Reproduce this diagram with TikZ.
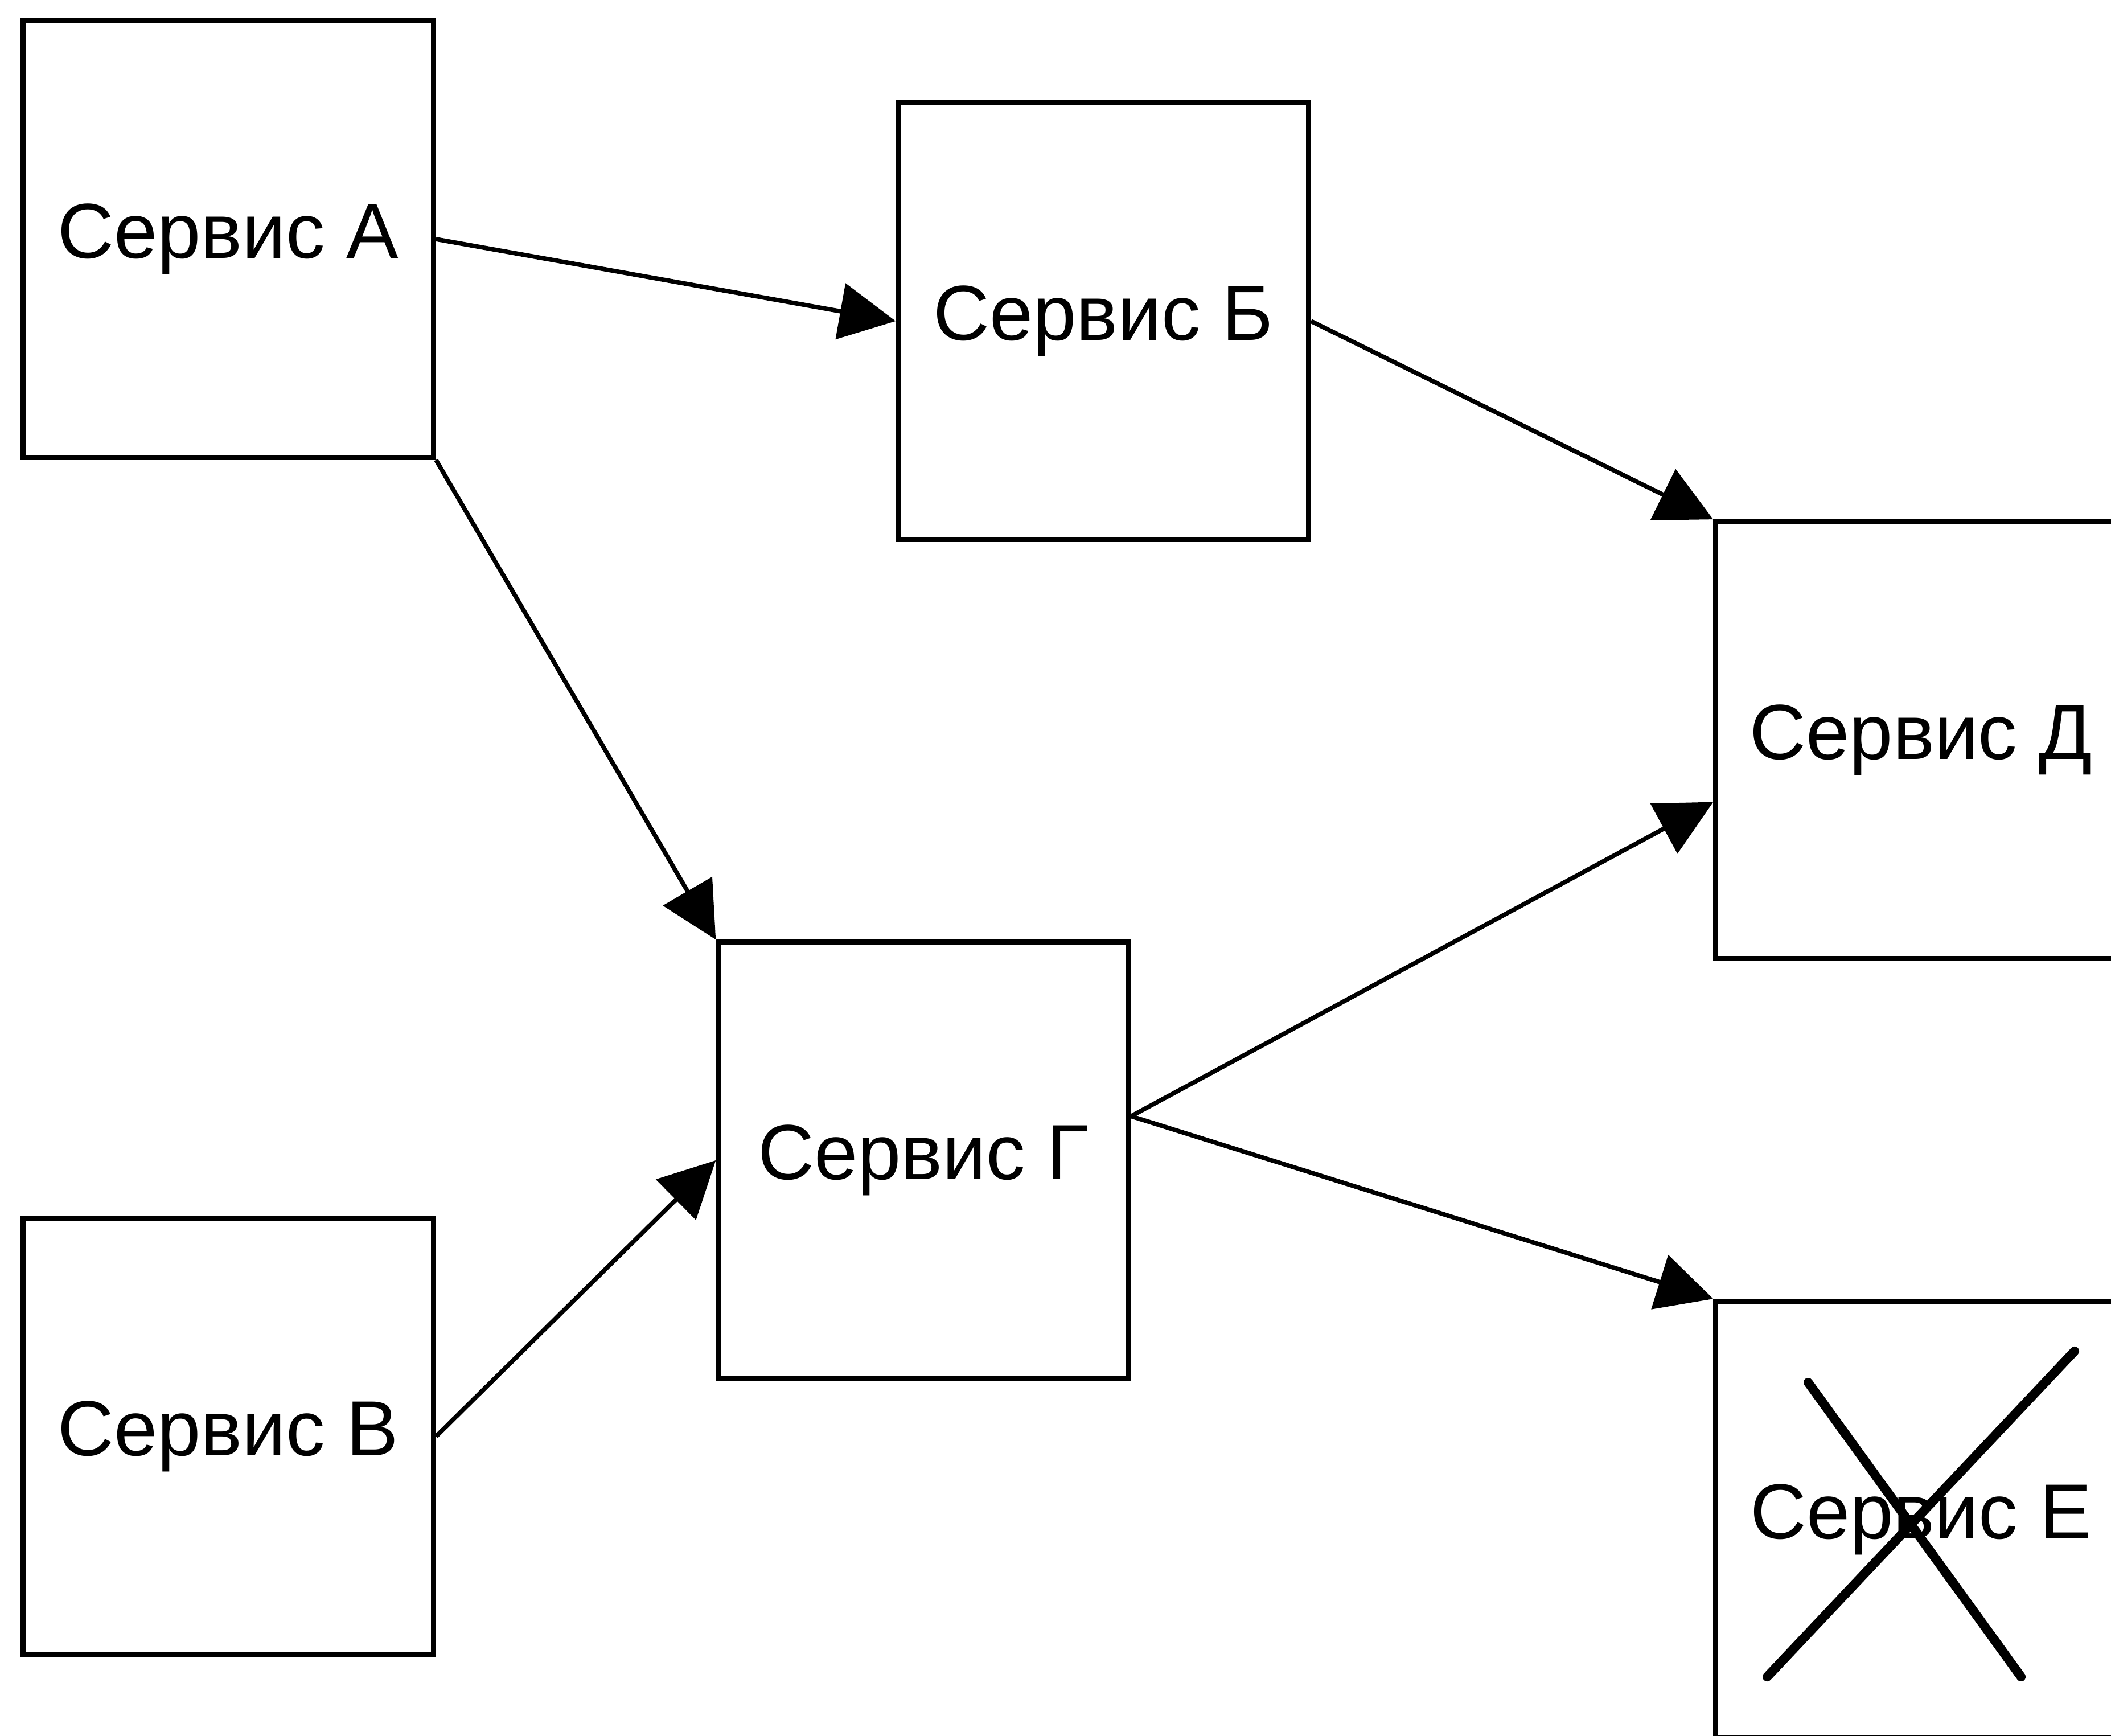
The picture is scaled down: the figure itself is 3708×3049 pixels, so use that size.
\documentclass[tikz,border=0pt]{standalone}
\usepackage{fontspec}
\setmainfont{Liberation Sans}
\usetikzlibrary{arrows.meta,calc}
\begin{document}
\begin{tikzpicture}[x=0.01cm,y=-0.01cm,
  service/.style={draw=black, line width=2.6pt, fill=white,
    minimum width=7.2cm, minimum height=7.66cm, inner sep=0pt,
    font=\fontsize{39}{47}\selectfont},
  link/.style={line width=2.2pt, -{Triangle[length=28pt,width=28pt]}},
  cross/.style={line width=4.6pt, line cap=round}]
\useasboundingbox (0,0) rectangle (3708,3049);
\clip (0,0) rectangle (3708,3049);
\fill[white] (0,0) rectangle (3708,3049);

% services
\node[service] (sa) at (401,420)   {Сервис А};
\node[service] (sb) at (1938,564)  {Сервис Б};
\node[service] (sv) at (401,2523)  {Сервис В};
\node[service] (sg) at (1622,2038) {Сервис Г};
\node[service] (sd) at (3374,1300) {Сервис Д};
\node[service] (se) at (3374,2669) {Сервис Е};

% connection points on the sides of boxes
\coordinate (gout) at ($(sg.north east)!0.4!(sg.south east)$);
\coordinate (din)  at ($(sd.north west)!0.64!(sd.south west)$);

% calls between services
\draw[link] (sa.east) -- (sb.west);
\draw[link] (sb.east) -- (sd.north west);
\draw[link] (sa.south east) -- (sg.north west);
\draw[link] (sv.east) -- (sg.west);
\draw[link] (gout) -- (din);
\draw[link] (gout) -- (se.north west);

% crossed-out service
\draw[cross] ($(se)+(-198,-241)$) -- ($(se)+(176,276)$);
\draw[cross] ($(se)+(270,-296)$) -- ($(se)+(-270,276)$);
\end{tikzpicture}
\end{document}
